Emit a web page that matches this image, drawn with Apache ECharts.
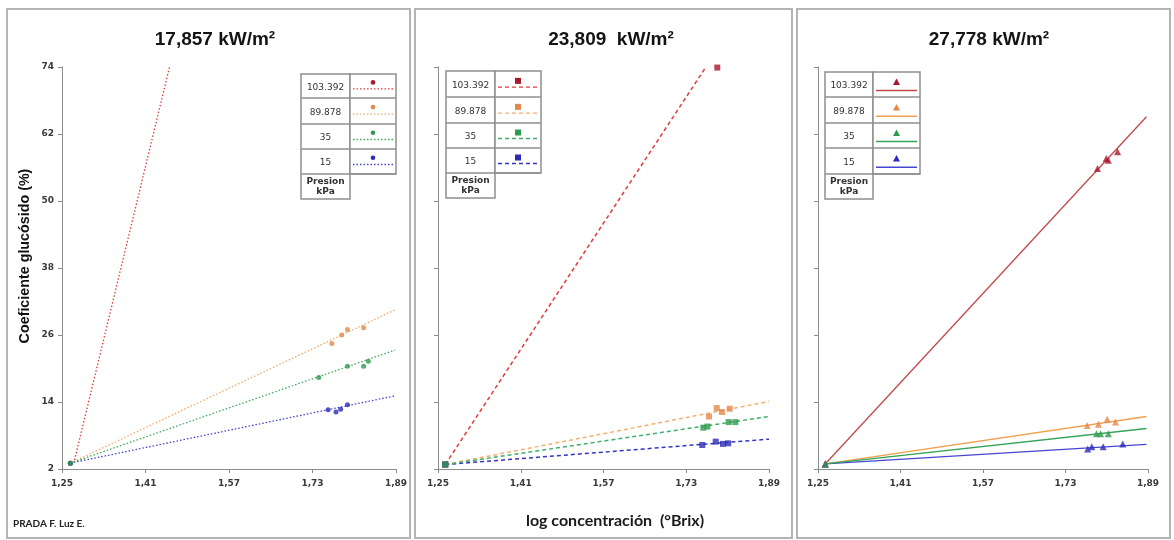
<!DOCTYPE html>
<html><head><meta charset="utf-8">
<script src="https://cdn.jsdelivr.net/npm/echarts@6/dist/echarts.min.js"></script>
<style>html,body{margin:0;padding:0;background:#fff}#c{width:1174px;height:540px}</style>
</head><body><div id="c"></div>
<script>
// ---------- data ----------
const xTicks = [1.25, 1.41, 1.57, 1.73, 1.89];
const yTicks = [2, 14, 26, 38, 50, 62, 74];
const pressures = ['103.392', '89.878', '35', '15'];
const panelTitles = ['17,857 kW/m²', '23,809  kW/m²', '27,778 kW/m²'];
const yAxisTitle = 'Coeficiente glucósido (%)';
const xAxisTitle = 'log concentración  (°Brix)';
const author = 'PRADA F. Luz E.';

// Panel 1 : 17,857 kW/m2
const p1Pts103 = [[1.266, 3.05]];
const p1Pts89 = [[1.266, 3.05], [1.767, 24.5], [1.786, 26.0], [1.797, 27.0], [1.828, 27.3]];
const p1Pts35 = [[1.266, 3.05], [1.742, 18.4], [1.797, 20.4], [1.828, 20.4], [1.837, 21.3]];
const p1Pts15 = [[1.266, 3.05], [1.760, 12.6], [1.775, 12.2], [1.784, 12.7], [1.797, 13.5]];
const p1Trend103 = [[1.274, 3.6], [1.456, 74]];
const p1Trend89 = [[1.266, 3.05], [1.888, 30.5]];
const p1Trend35 = [[1.266, 3.05], [1.888, 23.3]];
const p1Trend15 = [[1.266, 3.05], [1.888, 15.1]];

// Panel 2 : 23,809 kW/m2
const p2Pts103 = [[1.264, 2.8], [1.790, 73.9]];
const p2Pts89 = [[1.264, 2.8], [1.774, 11.4], [1.789, 12.9], [1.799, 12.2], [1.814, 12.8]];
const p2Pts35 = [[1.264, 2.8], [1.763, 9.4], [1.771, 9.6], [1.812, 10.4], [1.825, 10.4]];
const p2Pts15 = [[1.264, 2.8], [1.761, 6.3], [1.787, 6.9], [1.801, 6.5], [1.811, 6.6]];
const p2Trend103 = [[1.264, 2.8], [1.768, 74]];
const p2Trend89 = [[1.264, 2.8], [1.890, 14.1]];
const p2Trend35 = [[1.264, 2.8], [1.890, 11.4]];
const p2Trend15 = [[1.264, 2.8], [1.890, 7.35]];

// Panel 3 : 27,778 kW/m2
const p3Pts103 = [[1.264, 2.9], [1.792, 55.8], [1.809, 57.6], [1.813, 57.3], [1.831, 58.8]];
const p3Pts89 = [[1.264, 2.9], [1.772, 9.8], [1.794, 10.0], [1.811, 10.9], [1.827, 10.4]];
const p3Pts35 = [[1.264, 2.9], [1.790, 8.3], [1.798, 8.3], [1.813, 8.3]];
const p3Pts15 = [[1.264, 2.9], [1.773, 5.6], [1.781, 6.0], [1.803, 6.0], [1.841, 6.5]];
const p3Trend103 = [[1.264, 2.9], [1.887, 65.1]];
const p3Trend89 = [[1.264, 2.9], [1.887, 11.4]];
const p3Trend35 = [[1.264, 2.9], [1.887, 9.25]];
const p3Trend15 = [[1.264, 2.9], [1.887, 6.4]];

// ---------- styling ----------
const markerColors = ['#a8182c', '#e3874a', '#2e9a4e', '#2b2bb8'];
const panels = [
  { pts: [p1Pts103, p1Pts89, p1Pts35, p1Pts15], trend: [p1Trend103, p1Trend89, p1Trend35, p1Trend15],
    lineColors: ['#e23a3a', '#f2a868', '#3daa5c', '#4343d2'], lineType: [1.5, 2], lineWidth: 1.3,
    symbol: 'circle', symbolSize: 5, grid: { left: 62, right: 778, top: 67, bottom: 71 },
    frame: [7, 9, 403, 529], titleX: 215,
    legend: { x: 301, col1: 49, col2: 46, rows: [74, 98, 124, 149, 174, 199] , markFrac: 0.35, lineFrac: 0.62 } },
  { pts: [p2Pts103, p2Pts89, p2Pts35, p2Pts15], trend: [p2Trend103, p2Trend89, p2Trend35, p2Trend15],
    lineColors: ['#e23a3a', '#f4b070', '#3cb06c', '#3434c4'], lineType: [4, 3], lineWidth: 1.5,
    symbol: 'rect', symbolSize: 6, grid: { left: 438, right: 405, top: 67, bottom: 71 },
    frame: [415, 9, 377, 529], titleX: 611,
    legend: { x: 446, col1: 49, col2: 46, rows: [71, 97, 123, 148, 173, 198], markFrac: 0.38, lineFrac: 0.62 } },
  { pts: [p3Pts103, p3Pts89, p3Pts35, p3Pts15], trend: [p3Trend103, p3Trend89, p3Trend35, p3Trend15],
    lineColors: ['#c44a4a', '#f0a050', '#35a35a', '#4646d4'], lineType: 'solid', lineWidth: 1.3,
    symbol: 'triangle', symbolSize: 7, grid: { left: 818, right: 26, top: 67, bottom: 71 },
    frame: [797, 9, 373, 529], titleX: 989,
    legend: { x: 825, col1: 48, col2: 47, rows: [72, 97, 123, 148, 174, 199], markFrac: 0.4, lineFrac: 0.74 } }
];

const fmt = v => v.toFixed(2).replace('.', ',');
const grids = [], xAxes = [], yAxes = [], series = [], graphics = [];
const drawOrder = [0, 1, 3, 2];

panels.forEach((p, i) => {
  grids.push(p.grid);
  xAxes.push({
    gridIndex: i, type: 'value', min: 1.25, max: 1.89,
    axisLine: { show: true, lineStyle: { color: '#8c8c8c', width: 1 } },
    axisTick: { show: true, customValues: xTicks, length: 4, lineStyle: { color: '#8c8c8c' } },
    axisLabel: { customValues: xTicks, formatter: fmt, fontSize: 9, fontWeight: 'bold', color: '#3a3a3a',
      fontFamily: 'DejaVu Sans', margin: 10 },
    splitLine: { show: false }
  });
  yAxes.push({
    gridIndex: i, type: 'value', min: 2, max: 74,
    axisLine: { show: true, lineStyle: { color: '#8c8c8c', width: 1 } },
    axisTick: { show: true, customValues: yTicks, length: 4, lineStyle: { color: '#8c8c8c' } },
    axisLabel: { show: i === 0, customValues: yTicks, fontSize: 9, fontWeight: 'bold', color: '#3a3a3a',
      fontFamily: 'DejaVu Sans', margin: 8 },
    splitLine: { show: false }
  });
  drawOrder.forEach(k => {
    series.push({
      type: 'line', xAxisIndex: i, yAxisIndex: i, data: p.trend[k], showSymbol: false, silent: true,
      lineStyle: { color: p.lineColors[k], width: p.lineWidth, type: p.lineType }, z: 2, animation: false
    });
  });
  drawOrder.forEach(k => {
    series.push({
      type: 'scatter', xAxisIndex: i, yAxisIndex: i, data: p.pts[k], symbol: p.symbol, symbolSize: p.symbolSize,
      itemStyle: { color: markerColors[k] }, z: 3, animation: false
    });
  });

  // frame
  graphics.push({ type: 'rect', shape: { x: p.frame[0], y: p.frame[1], width: p.frame[2], height: p.frame[3] },
    style: { fill: 'none', stroke: '#b4b4b4', lineWidth: 2 }, z: 0 });
  // title
  graphics.push({ type: 'text', x: p.titleX, y: 40, style: { text: panelTitles[i], fontSize: 19, fontWeight: 'bold',
    fontFamily: 'Liberation Sans', fill: '#141414', align: 'center', verticalAlign: 'middle',
    textAlign: 'center', textVerticalAlign: 'middle' }, z: 10 });

  // legend table
  const L = p.legend, r = L.rows, x0 = L.x, x1 = L.x + L.col1, x2 = L.x + L.col1 + L.col2;
  const bc = '#8f8f8f';
  graphics.push({ type: 'rect', shape: { x: x0, y: r[0], width: L.col1, height: r[5] - r[0] }, style: { fill: '#fff', stroke: bc, lineWidth: 1.5 }, z: 10 });
  graphics.push({ type: 'rect', shape: { x: x1, y: r[0], width: L.col2, height: r[4] - r[0] }, style: { fill: '#fff', stroke: bc, lineWidth: 1.5 }, z: 10 });
  for (let j = 1; j <= 4; j++) {
    graphics.push({ type: 'line', shape: { x1: x0, y1: r[j], x2: j < 4 ? x2 : x1, y2: r[j] }, style: { stroke: bc, lineWidth: 1.5 }, z: 11 });
  }
  graphics.push({ type: 'line', shape: { x1: x1, y1: r[4], x2: x2, y2: r[4] }, style: { stroke: bc, lineWidth: 1.5 }, z: 11 });
  pressures.forEach((lab, k) => {
    const top = r[k], h = r[k + 1] - r[k];
    graphics.push({ type: 'text', x: x0 + L.col1 / 2, y: top + h * 0.55, style: { text: lab, fontSize: 9,
      fontFamily: 'DejaVu Sans', fill: '#333', align: 'center', verticalAlign: 'middle',
      textAlign: 'center', textVerticalAlign: 'middle' }, z: 12 });
    const ly = top + h * L.lineFrac, my = top + h * L.markFrac, mx = x1 + L.col2 / 2;
    const lineStyle = { stroke: p.lineColors[k], lineWidth: p.lineType === 'solid' ? 1.5 : 1.3 };
    if (p.lineType !== 'solid') lineStyle.lineDash = p.lineType;
    graphics.push({ type: 'line', shape: { x1: x1 + 3, y1: ly, x2: x2 - 3, y2: ly }, style: lineStyle, z: 12 });
    if (p.symbol === 'circle') {
      graphics.push({ type: 'circle', shape: { cx: mx, cy: my, r: 2.3 }, style: { fill: markerColors[k] }, z: 13 });
    } else if (p.symbol === 'rect') {
      graphics.push({ type: 'rect', shape: { x: mx - 3, y: my - 3, width: 6, height: 6 }, style: { fill: markerColors[k] }, z: 13 });
    } else {
      graphics.push({ type: 'polygon', shape: { points: [[mx, my - 3.5], [mx + 3.5, my + 3], [mx - 3.5, my + 3]] }, style: { fill: markerColors[k] }, z: 13 });
    }
  });
  graphics.push({ type: 'text', x: x0 + L.col1 / 2, y: (r[4] + r[5]) / 2, style: { text: 'Presion\nkPa', fontSize: 9,
    fontWeight: 'bold', lineHeight: 10, fontFamily: 'DejaVu Sans', fill: '#333', align: 'center', verticalAlign: 'middle',
    textAlign: 'center', textVerticalAlign: 'middle' }, z: 12 });
});

// axis names & author
graphics.push({ type: 'text', x: 25, y: 256, rotation: Math.PI / 2, style: { text: yAxisTitle, fontSize: 14.3, fontWeight: 'bold',
  fontFamily: 'Liberation Sans Narrow, Liberation Sans', fill: '#111', align: 'center', verticalAlign: 'middle',
  textAlign: 'center', textVerticalAlign: 'middle' }, z: 10 });
graphics.push({ type: 'text', x: 615, y: 521, style: { text: xAxisTitle, fontSize: 16, fontWeight: 'bold',
  fontFamily: 'Lato', fill: '#1a1a1a', align: 'center', verticalAlign: 'middle',
  textAlign: 'center', textVerticalAlign: 'middle' }, z: 10 });
graphics.push({ type: 'text', x: 13, y: 524, style: { text: author, fontSize: 10, fontWeight: 'bold',
  fontFamily: 'Lato', fill: '#222', align: 'left', verticalAlign: 'middle',
  textAlign: 'left', textVerticalAlign: 'middle' }, z: 10 });

const chart = echarts.init(document.getElementById('c'), null, { renderer: 'canvas' });
chart.setOption({
  backgroundColor: '#ffffff',
  animation: false,
  grid: grids, xAxis: xAxes, yAxis: yAxes, series: series,
  graphic: { elements: graphics }
});
</script></body></html>
